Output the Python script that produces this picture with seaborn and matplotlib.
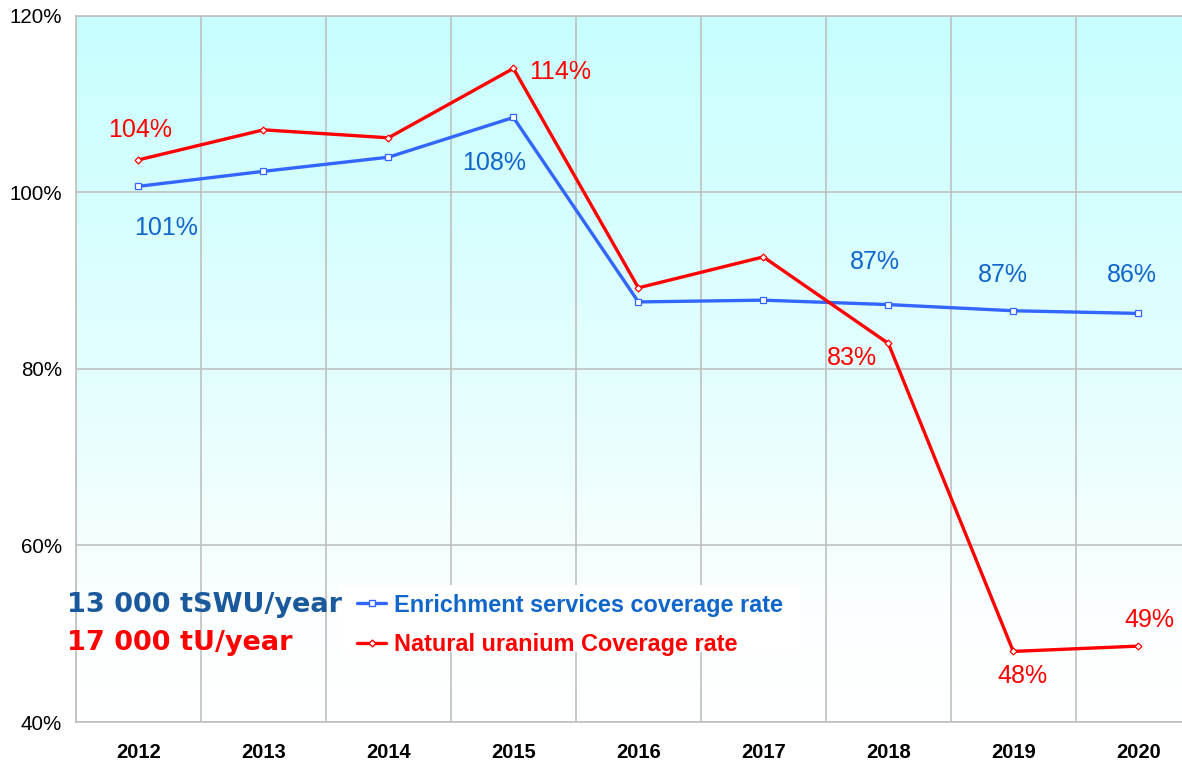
import numpy as np
import pandas as pd
import matplotlib
matplotlib.use("Agg")
import matplotlib.pyplot as plt
import seaborn as sns
from matplotlib.patches import Rectangle
from matplotlib.lines import Line2D
from matplotlib.colors import LinearSegmentedColormap

# ---- data ----
years = ["2012", "2013", "2014", "2015", "2016", "2017", "2018", "2019", "2020"]
enrichment = [100.7, 102.4, 104.0, 108.5, 87.6, 87.8, 87.3, 86.6, 86.3]
uranium = [103.7, 107.1, 106.2, 114.06, 89.2, 92.7, 82.9, 48.0, 48.6]
enrich_label_idx = [0, 3, 6, 7, 8]
enrich_label_txt = ["101%", "108%", "87%", "87%", "86%"]
uran_label_idx = [0, 3, 6, 7, 8]
uran_label_txt = ["104%", "114%", "83%", "48%", "49%"]
series_names = ["Enrichment services coverage rate", "Natural uranium Coverage rate"]
capacity_texts = ["13 000 tSWU/year", "17 000 tU/year"]
yticks = [40, 60, 80, 100, 120]

# layout (label offsets in points)
enrich_off = [(19.8, -30), (-14, -32.8), (-9.7, 30.7), (-7.6, 25.8), (-4.7, 27.6)]
uran_off = [(1.1, 21.6), (33.5, -2.6), (-26.3, -10.5), (6.8, -17.7), (8.3, 18.7)]

BLUE = "#3366FF"
BLUE_TXT = "#1166CC"
RED = "#FF0000"
DARKBLUE = "#1A5A9C"
GRID = "#C0C0C0"

sns.set_theme(style="white")
plt.rcParams["font.family"] = ["Liberation Sans", "DejaVu Sans"]

fig = plt.figure(figsize=(11.82, 7.6), dpi=100)
ax = fig.add_axes([76 / 1182, 38 / 760, 1 - 76 / 1182, (722 - 16) / 760])

x = np.arange(len(years))
df = pd.DataFrame({
    "x": np.concatenate([x, x]),
    "value": enrichment + uranium,
    "series": [series_names[0]] * len(years) + [series_names[1]] * len(years),
})

# gradient background
cmap = LinearSegmentedColormap.from_list("bg", [(0.0, "#FFFFFF"), (0.15, "#FCFFFF"), (0.5, "#E3FEFE"), (1.0, "#C8FFFF")])
grad = np.linspace(0, 1, 256).reshape(-1, 1)
ax.imshow(grad, aspect="auto", cmap=cmap, origin="lower",
          extent=[-0.5, 8.5, 40, 120], zorder=0)

# white box behind legend
ax.add_patch(Rectangle((0.5 + (338 - 201) / 125, 120 - (652 - 16) / 8.825), (800 - 338) / 125,
                       (652 - 585) / 8.825, facecolor="white", edgecolor="none", zorder=1.5))

sns.lineplot(data=df[df.series == series_names[0]], x="x", y="value", color=BLUE,
             linewidth=2.4, marker="s", markersize=4, markerfacecolor="white",
             markeredgecolor=BLUE, markeredgewidth=0.9, ax=ax, zorder=3, legend=False)
sns.lineplot(data=df[df.series == series_names[1]], x="x", y="value", color=RED,
             linewidth=2.4, marker="D", markersize=3.5, markerfacecolor="white",
             markeredgecolor=RED, markeredgewidth=0.9, ax=ax, zorder=4, legend=False)

# data labels
for i, t, off in zip(enrich_label_idx, enrich_label_txt, enrich_off):
    ax.annotate(t, (x[i], enrichment[i]), xytext=off, textcoords="offset points",
                ha="center", va="center", fontsize=18, color=BLUE_TXT, zorder=5)
for i, t, off in zip(uran_label_idx, uran_label_txt, uran_off):
    ax.annotate(t, (x[i], uranium[i]), xytext=off, textcoords="offset points",
                ha="center", va="center", fontsize=18, color=RED, zorder=5)

# grid / ticks
ax.set_yticks(yticks)
ax.set_yticklabels([f"{v}%" for v in yticks])
ax.set_xticks(x)
ax.set_xticklabels(years, fontweight="bold")
ax.set_xticks(np.arange(-0.5, 9.0, 1.0), minor=True)
ax.grid(False)
ax.grid(True, axis="y", which="major", color=GRID, linewidth=1.2, zorder=1)
ax.grid(True, axis="x", which="minor", color=GRID, linewidth=1.2, zorder=1)
ax.set_axisbelow(True)
ax.tick_params(axis="x", which="major", length=0, labelsize=14.5, pad=15, colors="black")
ax.tick_params(axis="x", which="minor", length=8, width=1.2, color=GRID, direction="out")
ax.tick_params(axis="y", which="major", length=6, width=1.2, color=GRID, labelsize=14.8,
               pad=4, labelcolor="black", direction="out")
for s in ["left", "bottom", "top"]:
    ax.spines[s].set_color(GRID)
    ax.spines[s].set_linewidth(1.2)
ax.spines["right"].set_visible(False)
ax.set_xlabel("")
ax.set_ylabel("")

# capacity texts and legend
ax.text(-0.57, 53.3, capacity_texts[0], fontsize=19.5, fontweight="bold", color=DARKBLUE,
        family=["DejaVu Sans"], ha="left", va="center", zorder=5)
ax.text(-0.57, 49.0, capacity_texts[1], fontsize=19.5, fontweight="bold", color=RED,
        family=["DejaVu Sans"], ha="left", va="center", zorder=5)

handles = [
    Line2D([], [], color=BLUE, linewidth=2.4, marker="s", markersize=4,
           markerfacecolor="white", markeredgecolor=BLUE),
    Line2D([], [], color=RED, linewidth=2.4, marker="D", markersize=3.5,
           markerfacecolor="white", markeredgecolor=RED),
]
leg = ax.legend(handles, series_names, loc="center left",
                bbox_to_anchor=((336 - 76) / 1106, 1 - (625 - 16) / 706),
                frameon=False, handlelength=1.25, handletextpad=0.3, labelspacing=0.72,
                prop={"weight": "bold", "size": 16.9})
for txt, c in zip(leg.get_texts(), [BLUE_TXT, RED]):
    txt.set_color(c)
leg.set_zorder(6)

ax.set_xlim(-0.5, 8.35)
ax.set_ylim(40, 120)

fig.savefig("out.png", dpi=100, facecolor="white")
